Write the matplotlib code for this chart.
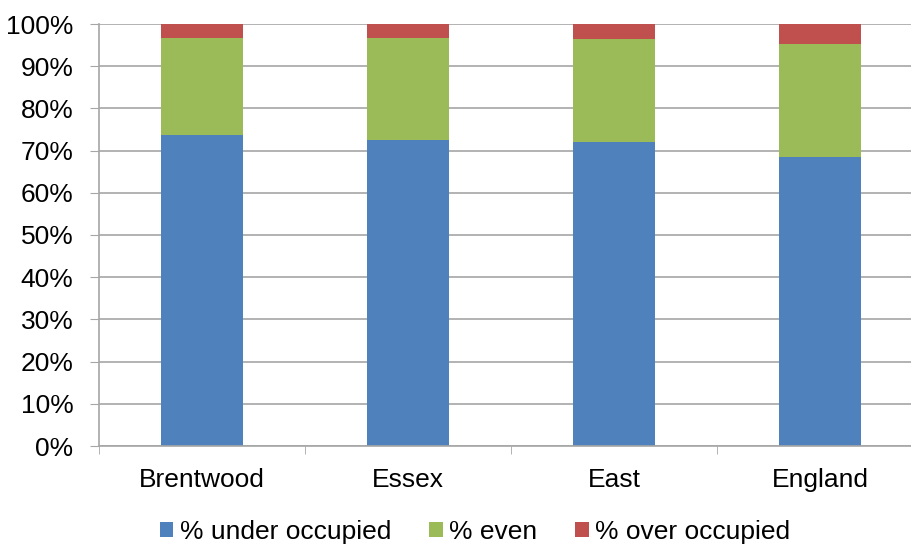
import numpy as np
import matplotlib.pyplot as plt
from matplotlib.ticker import FixedLocator, PercentFormatter

plt.rcParams['font.family'] = ['Liberation Sans', 'DejaVu Sans']

areas = ['Brentwood', 'Essex', 'East', 'England']
under_occupied = [73.8, 72.6, 72.0, 68.6]
even = [23.0, 24.2, 24.5, 26.7]
over_occupied = [3.2, 3.2, 3.5, 4.7]

series = [
    ('% under occupied', under_occupied, '#4F81BD'),
    ('% even', even, '#9BBB59'),
    ('% over occupied', over_occupied, '#C0504D'),
]

fig = plt.figure(figsize=(9.12, 5.45), dpi=100)
ax = fig.add_axes([99 / 912, 99 / 545, 824 / 912, 422 / 545])

x = np.arange(len(areas))
bottom = np.zeros(len(areas))
for label, vals, color in series:
    vals = np.array(vals)
    ax.bar(x, vals, 0.4, bottom=bottom, color=color, label=label, zorder=2)
    bottom += vals

ax.set_xlim(-0.5, len(areas) - 0.5)
ax.set_ylim(0, 100)
ax.set_yticks(np.arange(0, 101, 10))
ax.yaxis.set_major_formatter(PercentFormatter(decimals=0))
ax.yaxis.grid(True, color='#A6A6A6', linewidth=1.2, zorder=0)

ax.set_xticks(x)
ax.set_xticklabels(areas)
ax.xaxis.set_minor_locator(FixedLocator(np.arange(-0.5, len(areas), 1.0)))
ax.tick_params(axis='x', which='major', length=0, pad=16, labelsize=19)
ax.tick_params(axis='x', which='minor', length=6, color='#A6A6A6')
ax.tick_params(axis='y', length=6.5, color='#A6A6A6', labelsize=19, pad=12)

for side in ('top', 'right'):
    ax.spines[side].set_visible(False)
for side in ('left', 'bottom'):
    ax.spines[side].set_color('#A6A6A6')
    ax.spines[side].set_linewidth(1.2)

fig.legend(loc='lower center', bbox_to_anchor=(0.521, -0.042), ncol=3,
           frameon=False, fontsize=19, handlelength=0.5, handleheight=0.5,
           handletextpad=0.25, columnspacing=1.45)

fig.savefig('out.png', dpi=100)
